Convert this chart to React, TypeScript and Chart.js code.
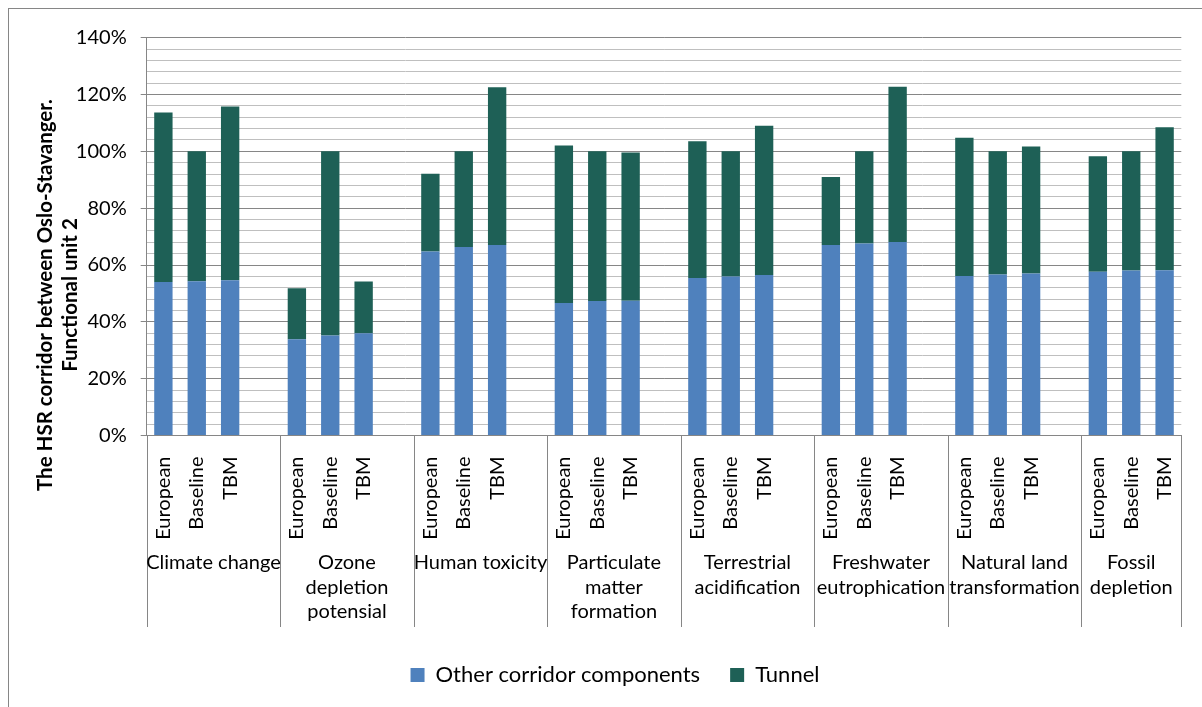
import { useEffect, useRef } from 'react';
import { Chart, registerables } from 'chart.js';

Chart.register(...registerables);

// ---- data ----
const IMPACT_CATEGORIES = [
  'Climate change',
  'Ozone\ndepletion\npotensial',
  'Human toxicity',
  'Particulate\nmatter\nformation',
  'Terrestrial\nacidification',
  'Freshwater\neutrophication',
  'Natural land\ntransformation',
  'Fossil\ndepletion',
];
const SCENARIOS = ['European', 'Baseline', 'TBM'];

// percent values, 3 per impact category (European, Baseline, TBM)
const OTHER_COMPONENTS = [
  54.0, 54.3, 54.6,
  33.9, 35.2, 36.0,
  64.8, 66.3, 67.0,
  46.6, 47.3, 47.4,
  55.4, 56.0, 56.5,
  67.0, 67.6, 68.1,
  56.1, 56.7, 57.0,
  57.6, 58.1, 58.2,
];
const TUNNEL = [
  59.7, 45.7, 61.2,
  17.9, 64.8, 18.2,
  27.3, 33.7, 55.6,
  55.5, 52.7, 52.2,
  48.2, 44.0, 52.5,
  24.0, 32.4, 54.6,
  48.7, 43.3, 44.7,
  40.7, 41.9, 50.3,
];
const Y_TICK_STEP = 4;
const Y_MAJOR_STEP = 20;
const Y_MAX = 140;
const SERIES_NAMES = ['Other corridor components', 'Tunnel'];
const Y_TITLE = ['The HSR corridor between Oslo-Stavanger.', 'Functional unit 2'];

// ---- styling / layout ----
const BLUE = '#4F81BD';
const GREEN = '#1E6056';
const MAJOR_GRID = '#868686';
const MINOR_GRID = '#BFBFBF';
const FONT = 'Lato';
const FONT_SIZE = 20;
const LEGEND_FONT_SIZE = 22;
const PAD_LEFT = 48.7;
const PLOT_LEFT = 146.7;

// build slot table: 3 bars per category, one empty slot between categories
const slotLabels: string[] = [];
const slotOther: (number | null)[] = [];
const slotTunnel: (number | null)[] = [];
IMPACT_CATEGORIES.forEach((_, g) => {
  SCENARIOS.forEach((s, i) => {
    slotLabels.push(s);
    slotOther.push(OTHER_COMPONENTS[g * 3 + i]);
    slotTunnel.push(TUNNEL[g * 3 + i]);
  });
  if (g < IMPACT_CATEGORIES.length - 1) {
    slotLabels.push('');
    slotOther.push(null);
    slotTunnel.push(null);
  }
});

const groupAxisPlugin = {
  id: 'groupAxis',
  afterDraw(chart: any) {
    const { ctx } = chart;
    const xs = chart.scales.x;
    const boundary = (k: number) => {
      if (k <= 0) return xs.left;
      if (k >= slotLabels.length) return xs.right;
      return (xs.getPixelForValue(k - 1) + xs.getPixelForValue(k)) / 2;
    };
    ctx.save();
    // dividers
    ctx.strokeStyle = MAJOR_GRID;
    ctx.lineWidth = 1;
    const divTop = xs.top;
    const divBottom = xs.top + 191.5;
    const bounds: number[] = [];
    IMPACT_CATEGORIES.forEach((_, g) => bounds.push(boundary(g * 4)));
    bounds.push(boundary(slotLabels.length));
    bounds.forEach((b) => {
      const x = Math.round(b) + 0.5;
      ctx.beginPath();
      ctx.moveTo(x, divTop);
      ctx.lineTo(x, divBottom);
      ctx.stroke();
    });
    // group labels
    ctx.fillStyle = '#000';
    ctx.font = `${FONT_SIZE}px ${FONT}`;
    ctx.textAlign = 'center';
    ctx.textBaseline = 'middle';
    IMPACT_CATEGORIES.forEach((name, g) => {
      const cx = (bounds[g] + bounds[g + 1]) / 2;
      name.split('\n').forEach((line, i) => {
        ctx.fillText(line, cx, xs.top + 127.5 + i * 24.5);
      });
    });
    // y-axis title
    ctx.font = `bold 20.5px ${FONT}`;
    ctx.translate(45, 295);
    ctx.rotate(-Math.PI / 2);
    Y_TITLE.forEach((line, i) => {
      ctx.fillText(line, 0, i * 25);
    });
    ctx.restore();
  },
};

export default function App() {
  const ref = useRef<HTMLCanvasElement>(null);
  useEffect(() => {
    const canvas = ref.current!;
    const isMajor = (v: number) => Math.round(v) % Y_MAJOR_STEP === 0;
    const chart = new Chart(canvas, {
      type: 'bar',
      data: {
        labels: slotLabels,
        datasets: [
          { label: SERIES_NAMES[0], data: slotOther, backgroundColor: BLUE, barPercentage: 0.55, categoryPercentage: 1 },
          { label: SERIES_NAMES[1], data: slotTunnel, backgroundColor: GREEN, barPercentage: 0.55, categoryPercentage: 1 },
        ],
      },
      options: {
        animation: false,
        responsive: false,
        layout: { padding: { left: PAD_LEFT, right: 20.7, top: 37.7, bottom: 11 } },
        plugins: {
          legend: {
            position: 'bottom',
            labels: {
              boxWidth: 14,
              boxHeight: 14,
              padding: 30,
              color: '#000',
              font: { family: FONT, size: LEGEND_FONT_SIZE },
            },
          },
          tooltip: { enabled: false },
        },
        scales: {
          x: {
            stacked: true,
            grid: { display: false },
            border: { display: true, color: MAJOR_GRID },
            ticks: {
              autoSkip: false,
              minRotation: 90,
              maxRotation: 90,
              padding: 13,
              color: '#000',
              font: { family: FONT, size: FONT_SIZE },
            },
            afterFit: (s: any) => {
              s.height = 198.5;
            },
          },
          y: {
            stacked: true,
            min: 0,
            max: Y_MAX,
            ticks: {
              stepSize: Y_TICK_STEP,
              autoSkip: false,
              padding: 14,
              color: '#000',
              font: { family: FONT, size: FONT_SIZE },
              callback: (v: any) => (isMajor(Number(v)) ? `${Math.round(Number(v))}%` : ''),
            },
            grid: {
              color: (c: any) => (isMajor(c.tick?.value ?? 0) ? MAJOR_GRID : MINOR_GRID),
              tickColor: (c: any) => (isMajor(c.tick?.value ?? 0) ? MAJOR_GRID : 'rgba(0,0,0,0)'),
              tickLength: 6,
            },
            border: { display: true, color: MAJOR_GRID },
            afterFit: (s: any) => {
              s.width = PLOT_LEFT - PAD_LEFT;
            },
          },
        },
      },
      plugins: [groupAxisPlugin],
    } as any);
    return () => chart.destroy();
  }, []);

  return (
    <div style={{ position: 'absolute', left: 0, top: 0, width: 1202, height: 707, overflow: 'hidden', background: '#fff' }}>
      <div
        style={{
          position: 'absolute',
          left: 8,
          top: 8,
          width: 1400,
          height: 900,
          borderTop: '1px solid #868686',
          borderLeft: '1px solid #868686',
        }}
      />
      <canvas ref={ref} width={1202} height={707} style={{ position: 'absolute', left: 0, top: 0 }} />
    </div>
  );
}
